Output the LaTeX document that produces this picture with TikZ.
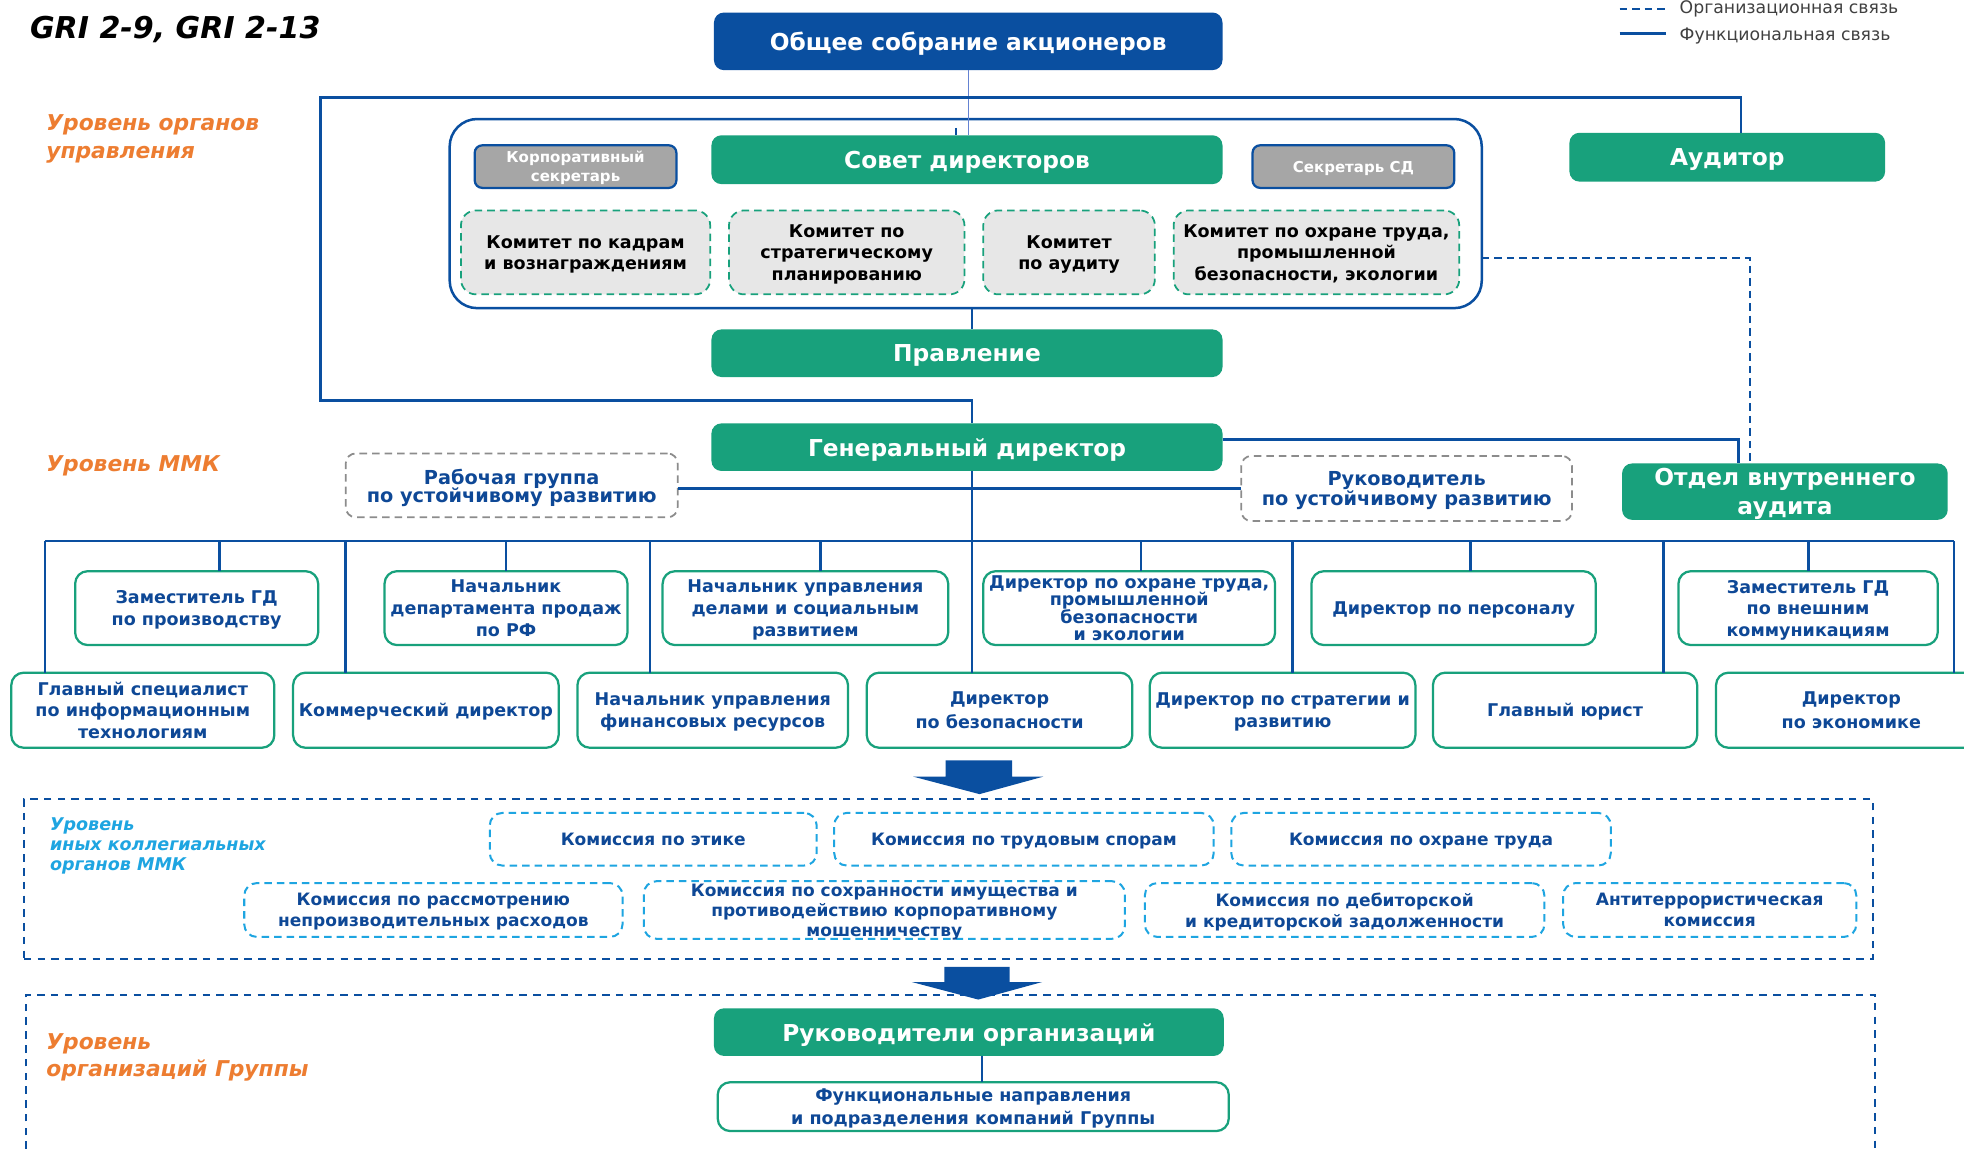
\documentclass[tikz,border=0pt]{standalone}
\usepackage{fontspec}
\setmainfont{DejaVu Sans}
\usetikzlibrary{calc}
\definecolor{dblue}{RGB}{10,79,160}
\definecolor{tblue}{RGB}{14,72,150}
\definecolor{mgreen}{RGB}{24,161,124}
\definecolor{orng}{RGB}{237,125,49}
\definecolor{lblue}{RGB}{30,165,225}
\definecolor{gfill}{RGB}{166,166,166}
\definecolor{lgray}{RGB}{231,231,231}
\definecolor{dgray}{RGB}{140,140,140}
\definecolor{thinblue}{RGB}{100,130,210}
\definecolor{legtext}{RGB}{64,64,64}
\newcommand\fsz[2]{\fontsize{#1}{#2}\selectfont\lineskiplimit=-6pt\lineskip=0pt}
\newcommand\bx[7]{\node[#2, minimum width={(#5-#3)*0.5pt}, minimum height={(#6-#4)*0.5pt}] (#1) at ({(#3+#5)/2},{(#4+#6)/2}) {#7};}
\tikzset{
  func/.style={draw=dblue, line width=1.1pt},
  org/.style={draw=dblue, line width=1pt, dash pattern=on 3pt off 2pt},
  thinl/.style={draw=thinblue, line width=0.5pt},
  hdr/.style={fill=mgreen, rounded corners=4pt, text=white, font=\bfseries\fsz{9.3}{11.5}},
  hdrb/.style={hdr, fill=dblue},
  gbox/.style={fill=gfill, draw=dblue, line width=0.9pt, rounded corners=3pt, text=white, font=\bfseries\fsz{6}{7.5}},
  comm/.style={fill=lgray, draw=mgreen, line width=0.7pt, dash pattern=on 3pt off 2pt, rounded corners=6pt, text=black, font=\bfseries\fsz{7}{8.5}},
  dgbox/.style={fill=white, draw=dgray, line width=0.7pt, dash pattern=on 3pt off 2pt, rounded corners=4pt, text=tblue, font=\bfseries\fsz{7.7}{7.2}},
  ubox/.style={fill=white, draw=mgreen, line width=0.9pt, rounded corners=5pt, text=tblue, font=\bfseries\fsz{7}{8.6}},
  kom/.style={fill=white, draw=lblue, line width=0.8pt, dash pattern=on 3pt off 2pt, rounded corners=5pt, text=tblue, font=\bfseries\fsz{6.8}{8.3}},
  regbox/.style={draw=dblue, line width=0.8pt, dash pattern=on 3pt off 2.5pt},
  cont/.style={draw=dblue, line width=1pt, rounded corners=11pt},
  lvl/.style={anchor=west, align=left, text=orng, font=\bfseries\itshape\fsz{8.7}{10.8}},
  legtxt/.style={anchor=west, text=legtext, font=\fsz{6.9}{8}}
}
\begin{document}
\begin{tikzpicture}[x=0.5pt, y=-0.5pt, every node/.style={inner sep=1pt, outer sep=0pt, align=center, text depth=0pt}]
\useasboundingbox (0,0) rectangle (1568,917.3);
\fill[white] (0,0) rectangle (1568,917.3);

% title and legend
\node[anchor=west, font=\bfseries\itshape\fsz{12}{13}] (gri) at (22,22) {GRI 2-9, GRI 2-13};
\coordinate (lga) at (1293,7);
\coordinate (lgb) at (1330,7);
\coordinate (lgc) at (1293,27);
\coordinate (lgd) at (1330,27);
\draw[org] (lga) -- (lgb);
\draw[func] (lgc) -- (lgd);
\node[legtxt] (lt1) at (1339,6) {Организационная связь};
\node[legtxt] (lt2) at (1339,27) {Функциональная связь};

% level labels
\node[lvl] (lv1) at (35,109) {Уровень органов\\управления};
\node[lvl] (lv2) at (35,370) {Уровень ММК};
\node[lvl, text=lblue, font=\bfseries\itshape\fsz{7}{8}] (lv3) at (38,674) {Уровень\\иных коллегиальных\\органов ММК};
\node[lvl] (lv4) at (35,842) {Уровень\\организаций Группы};

% regions
\bx{reg1}{regbox}{19}{638}{1495}{766}{}
\coordinate (r2a) at (21,917.3);
\coordinate (r2b) at (21,794);
\coordinate (r2c) at (1497,794);
\coordinate (r2d) at (1497,917.3);
\draw[regbox] (r2a) -- (r2b) -- (r2c) -- (r2d);

% governance level
\bx{gsa}{hdrb}{570}{10}{976}{56}{Общее собрание акционеров}
\bx{sdc}{cont}{359}{95}{1183}{246}{}
\bx{ks}{gbox}{379}{116}{540}{150}{Корпоративный\\секретарь}
\bx{sd}{hdr}{568}{108}{976}{147}{Совет директоров}
\bx{ssd}{gbox}{1000}{116}{1161}{150}{Секретарь СД}
\bx{k1}{comm}{368}{168}{567}{235}{Комитет по кадрам\\и вознаграждениям}
\bx{k2}{comm}{582}{168}{770}{235}{Комитет по\\стратегическому\\планированию}
\bx{k3}{comm}{785}{168}{922}{235}{Комитет\\по аудиту}
\bx{k4}{comm}{937}{168}{1165}{235}{Комитет по охране труда,\\промышленной\\безопасности, экологии}
\bx{pr}{hdr}{568}{263}{976}{301}{Правление}
\bx{aud}{hdr}{1253}{106}{1505}{145}{Аудитор}

% MMK level
\bx{gd}{hdr}{568}{338}{976}{376}{Генеральный директор}
\bx{rg}{dgbox}{276}{362}{541}{413}{Рабочая группа\\по устойчивому развитию}
\bx{ruk}{dgbox, font=\bfseries\fsz{7.7}{8}}{991}{364}{1255}{416}{Руководитель\\по устойчивому развитию}
\bx{ova}{hdr}{1295}{370}{1555}{415}{Отдел внутреннего\\аудита}

\bx{u1}{ubox}{60}{456}{254}{515}{Заместитель ГД\\по производству}
\bx{u2}{ubox}{307}{456}{501}{515}{Начальник\\департамента продаж\\по РФ}
\bx{u3}{ubox}{529}{456}{757}{515}{Начальник управления\\делами и социальным\\развитием}
\bx{u4}{ubox, font=\bfseries\fsz{7}{7}}{785}{456}{1018}{515}{Директор по охране труда,\\промышленной\\безопасности\\и экологии}
\bx{u5}{ubox}{1047}{456}{1274}{515}{Директор по персоналу}
\bx{u6}{ubox}{1340}{456}{1547}{515}{Заместитель ГД\\по внешним\\коммуникациям}

\bx{l1}{ubox}{9}{537}{219}{597}{Главный специалист\\по информационным\\технологиям}
\bx{l2}{ubox}{234}{537}{446}{597}{Коммерческий директор}
\bx{l3}{ubox}{461}{537}{677}{597}{Начальник управления\\финансовых ресурсов}
\bx{l4}{ubox, font=\bfseries\fsz{7}{9.5}}{692}{537}{904}{597}{Директор\\по безопасности}
\bx{l5}{ubox}{918}{537}{1130}{597}{Директор по стратегии и\\развитию}
\bx{l6}{ubox}{1144}{537}{1355}{597}{Главный юрист}
\bx{l7}{ubox, font=\bfseries\fsz{7}{9.5}}{1370}{537}{1586}{597}{Директор\\по экономике}

% commissions
\bx{c1}{kom}{391}{649}{652}{691}{Комиссия по этике}
\bx{c2}{kom}{666}{649}{969}{691}{Комиссия по трудовым спорам}
\bx{c3}{kom}{983}{649}{1286}{691}{Комиссия по охране труда}
\bx{c4}{kom}{195}{705}{497}{748}{Комиссия по рассмотрению\\непроизводительных расходов}
\bx{c5}{kom, font=\bfseries\fsz{6.8}{8}}{514}{705}{898}{748}{Комиссия по сохранности имущества и\\противодействию корпоративному\\мошенничеству}
\bx{c6}{kom}{914}{705}{1233}{748}{Комиссия по дебиторской\\и кредиторской задолженности}
\bx{c7}{kom}{1248}{705}{1482}{748}{Антитеррористическая\\комиссия}

% group level
\bx{ro}{hdr}{570}{805}{977}{843}{Руководители организаций}
\bx{fn}{ubox, font=\bfseries\fsz{7}{9}}{573}{864}{981}{903}{Функциональные направления\\и подразделения компаний Группы}

% connectors
\draw[thinl] (gsa.south) -- (gsa.south |- sd.north);
\coordinate (tk) at (763,102);
\draw[func, line width=0.8pt] (tk) -- (tk |- sd.north);
\coordinate (tl) at (256,78);
\coordinate (tr) at (1390,78);
\coordinate (bl) at (256,320);
\coordinate (trk) at (776,320);
\draw[func] (aud.north -| tr) -- (tr) -- (tl) -- (bl) -- (trk) -- (trk |- gd.north);
\draw[func] (sdc.south -| trk) -- (trk |- pr.north);
\coordinate (dsh) at (1397,206);
\draw[org] (sdc.east |- dsh) -- (dsh) -- (dsh |- ova.north);
\coordinate (gr) at (1388,351);
\draw[func] (gd.east |- gr) -- (gr) -- (gr |- ova.north);
\draw[func] (ruk.west) -- (ruk.west -| rg.east);
\coordinate (busl) at (36,432);
\coordinate (busr) at (1560,432);
\draw[func] (busl) -- (busr);
\draw[func] (gd.south -| trk) -- (trk |- busl);
\foreach \n/\x in {u1/175,u2/404,u3/655,u4/911,u5/1174,u6/1444}
  \draw[func] (\n.north -| \x,0) -- (busl -| \x,0);
\foreach \n/\x in {l1/36,l2/276,l3/519,l4/776,l5/1032,l6/1328,l7/1560}
  \draw[func] (\n.north -| \x,0) -- (busl -| \x,0);
\draw[func, line width=0.8pt] (ro.south -| 784,0) -- (fn.north -| 784,0);

% big arrows
\fill[dblue] (755,607) -- (808,607) -- (808,620) -- (833,620) -- (782,634) -- (729,620) -- (755,620) -- cycle;
\fill[dblue] (754,772) -- (806,772) -- (806,784) -- (832,784) -- (781,798) -- (728,784) -- (754,784) -- cycle;
\end{tikzpicture}
\end{document}
